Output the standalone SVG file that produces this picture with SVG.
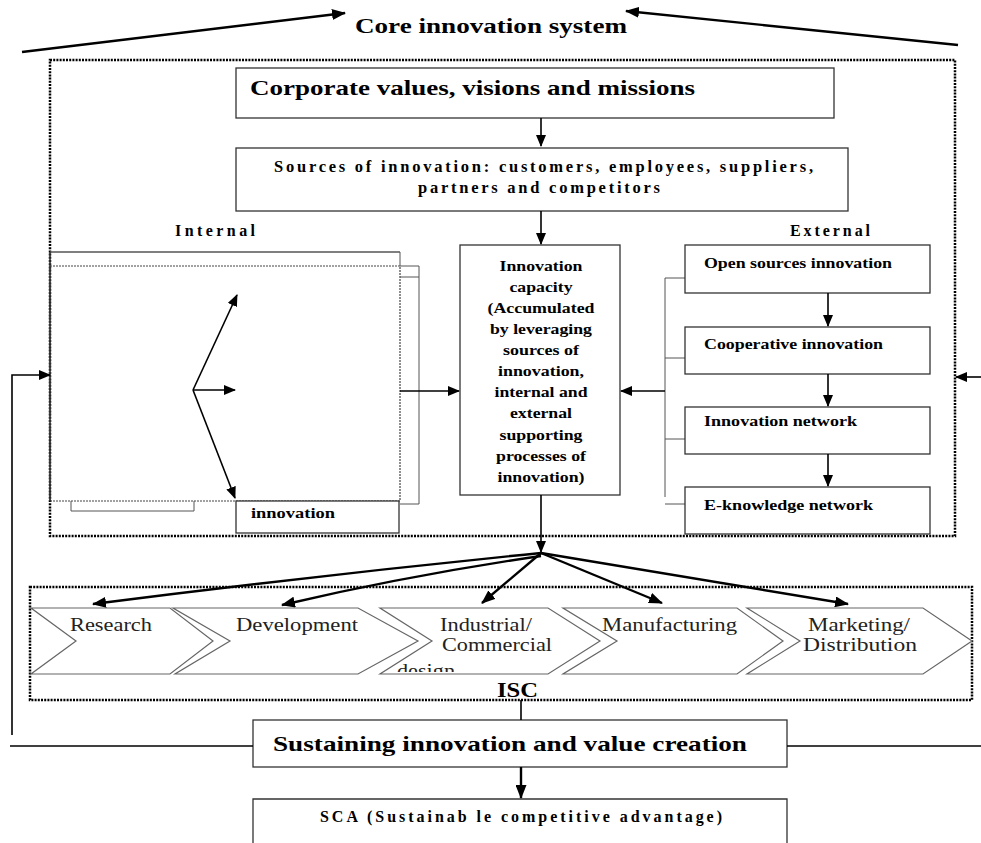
<svg xmlns="http://www.w3.org/2000/svg" width="981" height="843" viewBox="0 0 981 843">
<style>
.t{font-family:"Liberation Serif","DejaVu Serif",serif;font-weight:bold;fill:#000}
.r{font-family:"Liberation Serif","DejaVu Serif",serif;font-weight:normal;fill:#222}
.box{fill:#fff;stroke:#333;stroke-width:1.3}
.dot{fill:none;stroke:#000;stroke-width:2.5;stroke-dasharray:2 1.2}
.thin{fill:none;stroke:#555;stroke-width:1}
.chev{fill:#fff;stroke:#666;stroke-width:1.2}
.ln{fill:none;stroke:#000;stroke-width:1.6}
.ar{fill:none;stroke:#000;stroke-width:1.6;marker-end:url(#ah)}
.arb{fill:none;stroke:#000;stroke-width:2.4;marker-end:url(#ahb)}
</style>
<defs>
<marker id="ah" markerUnits="userSpaceOnUse" markerWidth="12" markerHeight="10" refX="11" refY="5" orient="auto"><path d="M0,0 L12,5 L0,10 Z" fill="#000"/></marker>
<marker id="ahb" markerUnits="userSpaceOnUse" markerWidth="14" markerHeight="11" refX="13" refY="5.5" orient="auto"><path d="M0,0 L14,5.5 L0,11 Z" fill="#000"/></marker>
<clipPath id="cd"><rect x="380" y="600" width="200" height="72"/></clipPath>
</defs>
<rect width="981" height="843" fill="#fff"/>

<g id="core-system">
<rect class="dot" x="50" y="60" width="905" height="476"/>
<text class="t" x="355" y="33" font-size="20" textLength="272" lengthAdjust="spacingAndGlyphs">Core innovation system</text>
</g>

<g id="corporate-values">
<rect class="box" x="236" y="68" width="598" height="50"/>
<text class="t" x="250" y="95" font-size="22" textLength="445" lengthAdjust="spacingAndGlyphs">Corporate values, visions and missions</text>
</g>

<g id="sources">
<rect class="box" x="236" y="148" width="612" height="63"/>
<text class="t" x="274" y="172" font-size="16.5" textLength="539" lengthAdjust="spacing">Sources of innovation: customers, employees, suppliers,</text>
<text class="t" x="418" y="193" font-size="16.5" textLength="242" lengthAdjust="spacing">partners and competitors</text>
</g>

<g id="internal">
<text class="t" x="175" y="236" font-size="16" textLength="80" lengthAdjust="spacing">Internal</text>
<line x1="50" y1="252" x2="400" y2="252" stroke="#555" stroke-width="1.6"/>
<line class="thin" x1="400" y1="252" x2="400" y2="266"/>
<rect x="50" y="266" width="350" height="235" fill="none" stroke="#444" stroke-width="1.2" stroke-dasharray="2 1"/>
<line x1="50" y1="252" x2="50" y2="501" stroke="#333" stroke-width="1.6"/>
<polyline class="thin" points="400,266 419,266 419,504 400,504"/>
<line class="thin" x1="400" y1="277" x2="419" y2="277"/>
<polyline class="thin" points="71,501 71,511 194,511 194,501"/>
</g>

<g id="internal-innovation">
<rect class="box" x="236" y="501" width="163" height="32"/>
<text class="t" x="251" y="518" font-size="15" textLength="84" lengthAdjust="spacingAndGlyphs">innovation</text>
</g>

<g id="innovation-capacity">
<rect class="box" x="460" y="245" width="160" height="250"/>
<g class="t" font-size="15" text-anchor="middle" lengthAdjust="spacingAndGlyphs">
<text x="541" y="271" textLength="83" lengthAdjust="spacingAndGlyphs">Innovation</text>
<text x="541" y="292" textLength="63" lengthAdjust="spacingAndGlyphs">capacity</text>
<text x="541" y="313" textLength="107" lengthAdjust="spacingAndGlyphs">(Accumulated</text>
<text x="541" y="334" textLength="102" lengthAdjust="spacingAndGlyphs">by leveraging</text>
<text x="541" y="355" textLength="76" lengthAdjust="spacingAndGlyphs">sources of</text>
<text x="541" y="376" textLength="86" lengthAdjust="spacingAndGlyphs">innovation,</text>
<text x="541" y="397" textLength="93" lengthAdjust="spacingAndGlyphs">internal and</text>
<text x="541" y="418" textLength="62" lengthAdjust="spacingAndGlyphs">external</text>
<text x="541" y="440" textLength="83" lengthAdjust="spacingAndGlyphs">supporting</text>
<text x="541" y="461" textLength="90" lengthAdjust="spacingAndGlyphs">processes of</text>
<text x="541" y="482" textLength="87" lengthAdjust="spacingAndGlyphs">innovation)</text>
</g>
</g>

<g id="external">
<text class="t" x="790" y="236" font-size="16" textLength="80" lengthAdjust="spacing">External</text>
<polyline class="thin" points="685,278 665,278 665,497"/>
<line class="thin" x1="665" y1="358" x2="685" y2="358"/>
<line class="thin" x1="665" y1="439" x2="685" y2="439"/>
<line class="thin" x1="665" y1="504" x2="685" y2="504"/>
</g>

<g id="open-sources">
<rect class="box" x="685" y="245" width="245" height="48"/>
<text class="t" x="704" y="268" font-size="15" textLength="188" lengthAdjust="spacingAndGlyphs">Open sources innovation</text>
</g>
<g id="cooperative">
<rect class="box" x="685" y="327" width="245" height="47"/>
<text class="t" x="704" y="349" font-size="15" textLength="179" lengthAdjust="spacingAndGlyphs">Cooperative innovation</text>
</g>
<g id="innovation-network">
<rect class="box" x="685" y="407" width="245" height="47"/>
<text class="t" x="704" y="426" font-size="15" textLength="153" lengthAdjust="spacingAndGlyphs">Innovation network</text>
</g>
<g id="e-knowledge">
<rect class="box" x="685" y="487" width="245" height="47"/>
<text class="t" x="704" y="510" font-size="15" textLength="169" lengthAdjust="spacingAndGlyphs">E-knowledge network</text>
</g>

<g id="isc">
<rect class="dot" x="30" y="587" width="942" height="113"/>
<text class="t" x="497" y="697" font-size="20" textLength="41" lengthAdjust="spacingAndGlyphs">ISC</text>
</g>
<g id="research">
<path class="chev" d="M31,608 L170,608 L213,641 L170,674 L31,674 L76,641 Z"/>
<text class="r" x="70" y="631" font-size="19" textLength="82" lengthAdjust="spacingAndGlyphs">Research</text>
</g>
<g id="development">
<path class="chev" d="M173,608 L358,608 L418,641 L358,674 L175,674 L230,641 Z"/>
<text class="r" x="236" y="631" font-size="19" textLength="122" lengthAdjust="spacingAndGlyphs">Development</text>
</g>
<g id="industrial">
<path class="chev" d="M380,608 L548,608 L600,641 L548,674 L380,674 L432,641 Z"/>
<text class="r" x="440" y="631" font-size="19" textLength="92" lengthAdjust="spacingAndGlyphs">Industrial/</text>
<text class="r" x="442" y="651" font-size="19" textLength="110" lengthAdjust="spacingAndGlyphs">Commercial</text>
<text class="r" x="397" y="677" font-size="19" textLength="58" lengthAdjust="spacingAndGlyphs" clip-path="url(#cd)">design</text>
</g>
<g id="manufacturing">
<path class="chev" d="M563,608 L737,608 L783,641 L737,674 L563,674 L617,641 Z"/>
<text class="r" x="602" y="631" font-size="19" textLength="135" lengthAdjust="spacingAndGlyphs">Manufacturing</text>
</g>
<g id="marketing">
<path class="chev" d="M747,608 L923,608 L972,641 L923,674 L747,674 L800,641 Z"/>
<text class="r" x="808" y="631" font-size="19" textLength="102" lengthAdjust="spacingAndGlyphs">Marketing/</text>
<text class="r" x="803" y="651" font-size="19" textLength="114" lengthAdjust="spacingAndGlyphs">Distribution</text>
</g>

<g id="sustaining">
<rect class="box" x="253" y="720" width="534" height="47"/>
<text class="t" x="273" y="751" font-size="22" textLength="474" lengthAdjust="spacingAndGlyphs">Sustaining innovation and value creation</text>
</g>
<g id="sca">
<path class="box" d="M253,843 L253,799 L787,799 L787,843"/>
<text class="t" x="320" y="822" font-size="16" textLength="402" lengthAdjust="spacing">SCA (Sustainab le competitive advantage)</text>
</g>

<g id="connectors">
<line class="arb" x1="22" y1="52" x2="345" y2="13"/>
<line class="arb" x1="958" y1="45" x2="626" y2="11"/>
<line class="ar" x1="541" y1="118" x2="541" y2="146"/>
<line class="ar" x1="541" y1="211" x2="541" y2="244"/>
<line class="ar" x1="193" y1="390" x2="237" y2="295"/>
<line class="ar" x1="193" y1="390" x2="235" y2="390"/>
<line class="ar" x1="193" y1="390" x2="235" y2="498"/>
<line class="ar" x1="400" y1="391" x2="459" y2="391"/>
<line class="ar" x1="665" y1="391" x2="621" y2="391"/>
<line class="ar" x1="828" y1="293" x2="828" y2="326"/>
<line class="ar" x1="828" y1="374" x2="828" y2="406"/>
<line class="ar" x1="828" y1="454" x2="828" y2="486"/>
<polyline class="ar" points="12,735 12,375 50,375"/>
<line class="ar" x1="981" y1="377" x2="956" y2="377"/>
<line class="ar" x1="541" y1="495" x2="541" y2="552"/>
<path class="arb" d="M541,553 Q320,575 93,604"/>
<path class="arb" d="M541,556 Q410,575 282,605"/>
<line class="arb" x1="541" y1="553" x2="482" y2="603"/>
<line class="arb" x1="541" y1="553" x2="662" y2="603"/>
<line class="arb" x1="541" y1="553" x2="848" y2="604"/>
<line class="ln" x1="521" y1="700" x2="521" y2="720" stroke-width="2.4"/>
<line class="arb" x1="521" y1="767" x2="521" y2="798"/>
<line class="ln" x1="10" y1="746" x2="253" y2="746"/>
<line class="ln" x1="787" y1="746" x2="981" y2="746"/>
</g>
</svg>
